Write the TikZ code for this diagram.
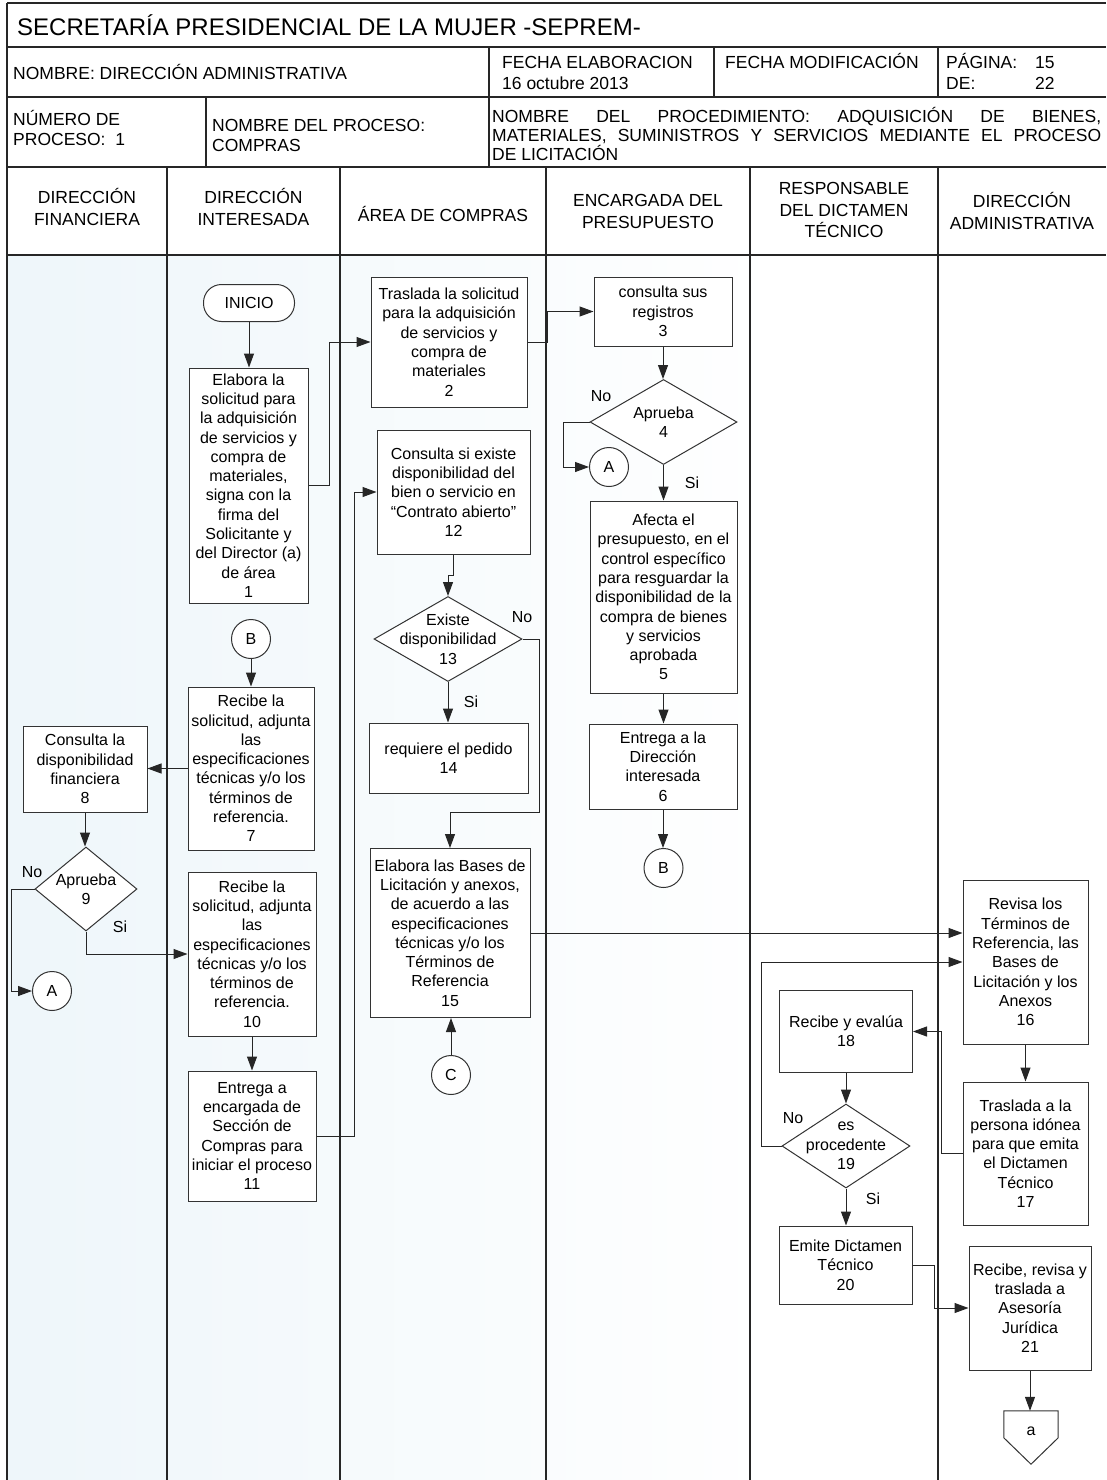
\documentclass[tikz,border=0pt]{standalone}
\usepackage{fontspec}
\setmainfont{Liberation Sans}
\usetikzlibrary{arrows.meta,shapes.geometric,calc}
\newcommand\boxfont{\fontsize{16}{19.3}\selectfont}
\newcommand\hdrfont{\fontsize{17.5}{20.5}\selectfont}
\newcommand\lanefont{\fontsize{17.5}{21.5}\selectfont}
\newcommand\ttlfont{\fontsize{24}{28}\selectfont}
\definecolor{bgblue}{RGB}{238,246,250}
\begin{document}
\begin{tikzpicture}[x=1pt,y=-1pt,
  rule/.style={line width=1.4pt,black!85},
  box/.style={draw=black!80,line width=1pt,fill=white,align=center,inner sep=1pt,font=\boxfont},
  term/.style={box,rounded corners=18pt},
  dia/.style={draw=black!80,line width=1pt,fill=white,diamond,inner sep=0pt},
  dtxt/.style={align=center,font=\boxfont,inner sep=0pt},
  conn/.style={draw=black!80,line width=1pt,fill=white,circle,inner sep=0pt,minimum size=39pt,font=\boxfont},
  lbl/.style={font=\boxfont,inner sep=0pt},
  hdr/.style={font=\lanefont,align=center,inner sep=0pt},
  cell/.style={font=\hdrfont,align=left,anchor=west,inner sep=0pt},
  oneline/.style={text height=12.6pt,text depth=3.7pt},
  flow/.style={draw=black!85,line width=1pt,-{Triangle[length=14pt,width=10pt]}},
]
\useasboundingbox (0,0) rectangle (1106,1480);

% faint tint of the swimlane area
\shade[left color=bgblue,right color=white] (7,255) rectangle (780,1480);

% ---- form frame ----
\draw[rule,line width=2pt] (7,3) -- (1106,3);
\draw[rule] (7,3) -- (7,1480);
\foreach \y in {47,97,167,255} \draw[rule] (7,\y) -- (1106,\y);
\draw[rule] (489,47) -- (489,167);
\draw[rule] (714,47) -- (714,97);
\draw[rule] (938,47) -- (938,97);
\draw[rule] (206,97) -- (206,167);
\foreach \x in {167,340,546,750,938} \draw[rule] (\x,167) -- (\x,1480);

% ---- form texts ----
\node[cell,font=\ttlfont] (ttl) at (17,25) {SECRETARÍA PRESIDENCIAL DE LA MUJER -SEPREM-};
\node[cell,oneline] (nom) at (13,75) {NOMBRE: DIRECCIÓN ADMINISTRATIVA};
\node[cell,oneline] (fel) at (502,64) {FECHA ELABORACION};
\node[cell,oneline] (feld) at (502,85) {16 octubre 2013};
\node[cell,oneline] (fmod) at (725,64) {FECHA MODIFICACIÓN};
\node[cell,oneline] (pag) at (946,64) {PÁGINA:};
\node[cell,oneline] (pagn) at (1035,64) {15};
\node[cell,oneline] (de) at (946,85) {DE:};
\node[cell,oneline] (den) at (1035,85) {22};
\node[cell] (nproc) at (13,128) {NÚMERO DE\\PROCESO:\ \ 1};
\node[cell] (nomp) at (212,135.5) {NOMBRE DEL PROCESO:\\COMPRAS};
\node[cell,font=\fontsize{17.5}{19}\selectfont] (proc) at (492,134)
  {\makebox[609pt][s]{NOMBRE DEL PROCEDIMIENTO: ADQUISICIÓN DE BIENES,}\\
   \makebox[609pt][s]{MATERIALES, SUMINISTROS Y SERVICIOS MEDIANTE EL PROCESO}\\
   DE LICITACIÓN};

% ---- lane titles ----
\node[hdr] (h1) at (87,207) {DIRECCIÓN\\FINANCIERA};
\node[hdr] (h2) at (253.5,207) {DIRECCIÓN\\INTERESADA};
\node[hdr] (h3) at (443,214) {ÁREA DE COMPRAS};
\node[hdr] (h4) at (648,211.5) {ENCARGADA DEL\\PRESUPUESTO};
\node[hdr] (h5) at (844,210) {RESPONSABLE\\DEL DICTAMEN\\TÉCNICO};
\node[hdr] (h6) at (1022,211) {DIRECCIÓN\\ADMINISTRATIVA};

% ---- lane: Dirección interesada ----
\node[term,minimum width=91,minimum height=37] (ini) at (249,303) {INICIO};
\node[box,minimum width=119,minimum height=235] (n1) at (248.5,485.5)
  {Elabora la\\solicitud para\\la adquisición\\de servicios y\\compra de\\materiales,\\signa con la\\firma del\\Solicitante y\\del Director (a)\\de área\\1};
\node[conn] (cB1) at (251,639) {B};
\node[box,minimum width=126,minimum height=163] (n7) at (251,768.5)
  {Recibe la\\solicitud, adjunta\\las\\especificaciones\\técnicas y/o los\\términos de\\referencia.\\7};
\node[box,minimum width=128,minimum height=164] (n10) at (252,954)
  {Recibe la\\solicitud, adjunta\\las\\especificaciones\\técnicas y/o los\\términos de\\referencia.\\10};
\node[box,minimum width=128,minimum height=130] (n11) at (252,1136)
  {Entrega a\\encargada de\\Sección de\\Compras para\\iniciar el proceso\\11};

% ---- lane: Dirección financiera ----
\node[box,minimum width=124,minimum height=86] (n8) at (85,769)
  {Consulta la\\disponibilidad\\financiera\\8};
\node[dia,minimum width=102,minimum height=84,label={[dtxt]center:{Aprueba\\9}}] (d9) at (86,889) {};
\node[conn] (cA1) at (52,991) {A};

% ---- lane: Área de compras ----
\node[box,minimum width=156,minimum height=130] (n2) at (449,342)
  {Traslada la solicitud\\para la adquisición\\de servicios y\\compra de\\materiales\\2};
\node[box,minimum width=153,minimum height=124] (n12) at (453.5,492)
  {Consulta si existe\\disponibilidad del\\bien o servicio en\\“Contrato abierto”\\12};
\node[dia,minimum width=148,minimum height=85,label={[dtxt]center:{Existe\\disponibilidad\\13}}] (d13) at (448,639) {};
\node[box,minimum width=159,minimum height=70] (n14) at (448.5,758) {requiere el pedido\\14};
\node[box,minimum width=160,minimum height=169] (n15) at (450,933)
  {Elabora las Bases de\\Licitación y anexos,\\de acuerdo a las\\especificaciones\\técnicas y/o los\\Términos de\\Referencia\\15};
\node[conn] (cC) at (451,1075) {C};

% ---- lane: Encargada del presupuesto ----
\node[box,minimum width=138,minimum height=69] (n3) at (663,311.5) {consulta sus\\registros\\3};
\node[dia,minimum width=147,minimum height=85,label={[dtxt]center:{Aprueba\\4}}] (d4) at (663.5,422) {};
\node[conn] (cA2) at (609,467) {A};
\node[box,minimum width=147,minimum height=192] (n5) at (663.5,597)
  {Afecta el\\presupuesto, en el\\control específico\\para resguardar la\\disponibilidad de la\\compra de bienes\\y servicios\\aprobada\\5};
\node[box,minimum width=148,minimum height=85] (n6) at (663,766.5) {Entrega a la\\Dirección\\interesada\\6};
\node[conn] (cB2) at (663.5,868) {B};

% ---- lane: Responsable del dictamen técnico ----
\node[box,minimum width=133,minimum height=82] (n18) at (846,1031.5) {Recibe y evalúa\\18};
\node[dia,minimum width=128,minimum height=84,label={[dtxt]center:{es\\procedente\\19}}] (d19) at (846,1146) {};
\node[box,minimum width=133,minimum height=78] (n20) at (845.5,1265) {Emite Dictamen\\Técnico\\20};

% ---- lane: Dirección administrativa ----
\node[box,minimum width=125,minimum height=164] (n16) at (1025.5,962)
  {Revisa los\\Términos de\\Referencia, las\\Bases de\\Licitación y los\\Anexos\\16};
\node[box,minimum width=125,minimum height=143] (n17) at (1025.5,1153.5)
  {Traslada a la\\persona idónea\\para que emita\\el Dictamen\\Técnico\\17};
\node[box,minimum width=122,minimum height=124] (n21) at (1030,1308)
  {Recibe, revisa y\\traslada a\\Asesoría\\Jurídica\\21};
\node[inner sep=0pt,minimum width=54,minimum height=53,text depth=13pt,font=\boxfont] (offa) at (1031,1437.5) {a};
\draw[draw=black!80,line width=1pt] (offa.north west) -- (offa.north east)
  -- ($(offa.north east)+(0,27)$) -- (offa.south) -- ($(offa.north west)+(0,27)$) -- cycle;

% ---- decision labels ----
\node[lbl] (no4) at (601,396) {No};
\node[lbl] (si4) at (692,483) {Si};
\node[lbl] (no9) at (32,872) {No};
\node[lbl] (si9) at (120,927) {Si};
\node[lbl] (no13) at (522,617) {No};
\node[lbl] (si13) at (471,702) {Si};
\node[lbl] (no19) at (793,1118) {No};
\node[lbl] (si19) at (873,1199) {Si};

% ---- connectors ----
\draw[flow] (ini.south) -- (ini.south |- n1.north);
\draw[flow] (n1.east) -- ++(21,0) |- (n2.west);
\draw[flow] (n2.east) -- ++(20,0) |- (n3.west);
\draw[flow] (n3.south) -- (n3.south |- d4.north);
\draw[flow] (d4.west) -- ++(-26,0) |- (cA2.west);
\draw[flow] (d4.south) -- (d4.south |- n5.north);
\draw[flow] (n5.south) -- (n5.south |- n6.north);
\draw[flow] (n6.south) -- (n6.south |- cB2.north);
\draw[flow] (cB1.south) -- (cB1.south |- n7.north);
\draw[flow] (n7.west) -- (n7.west -| n8.east);
\draw[flow] (n8.south) -- (n8.south |- d9.north);
\draw[flow] (d9.west) -- ++(-23,0) |- (cA1.west);
\draw[flow] (d9.south) |- (n10.west);
\draw[flow] (n10.south) -- (n10.south |- n11.north);
\draw[flow] (n11.east) -- ++(38,0) |- (n12.west);
\draw[flow] (n12.south) -- ++(0,21) -| (d13.north);
\draw[flow] (d13.east) -- ++(17,0) -- ++(0,173) -| (n15.north);
\draw[flow] (d13.south) -- (d13.south |- n14.north);
\draw[flow] (cC.north) -- (cC.north |- n15.south);
\draw[flow] (n15.east) -- (n15.east -| n16.west);
\draw[flow] (n16.south) -- (n16.south |- n17.north);
\draw[flow] (n17.west) -- ++(-21,0) |- (n18.east);
\draw[flow] (n18.south) -- (n18.south |- d19.north);
\draw[flow] (d19.west) -- ++(-20,0) |- (n16.west);
\draw[flow] (d19.south) -- (d19.south |- n20.north);
\draw[flow] (n20.east) -- ++(22,0) |- (n21.west);
\draw[flow] (n21.south) -- (n21.south |- offa.north);
\end{tikzpicture}
\end{document}
